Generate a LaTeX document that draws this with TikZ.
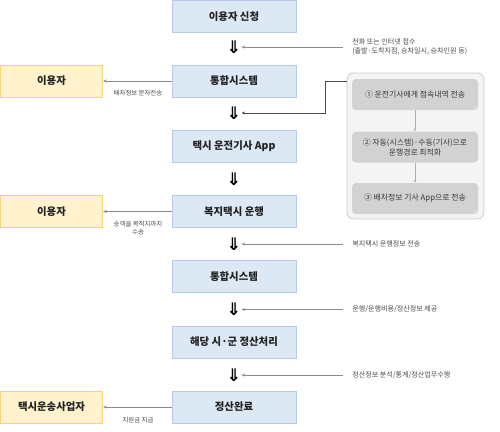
\documentclass[tikz,border=0pt]{standalone}
\usepackage{fontspec}
\setmainfont{Noto Sans CJK KR}
\newfontfamily\symfont{DejaVu Sans}
\usetikzlibrary{arrows.meta}
\definecolor{bluefill}{HTML}{DDE8F5}
\definecolor{blueline}{HTML}{B7CBE6}
\definecolor{yelfill}{HTML}{FFF2CC}
\definecolor{yelline}{HTML}{F5D47C}
\definecolor{panelfill}{HTML}{F4F4F4}
\definecolor{panelline}{HTML}{CCCCCC}
\definecolor{innerfill}{HTML}{D2D2D2}
\definecolor{txt}{HTML}{222222}
\definecolor{lbl}{HTML}{4A4A4A}
\definecolor{arr}{HTML}{8A8A8A}
\begin{document}
\begin{tikzpicture}[x=0.75pt,y=-0.75pt,
  mainbox/.style={draw=blueline, fill=bluefill, line width=0.6pt, minimum width=93pt, minimum height=24pt, inner sep=0pt, font=\fontsize{7.8}{9}\selectfont\bfseries, text=txt},
  userbox/.style={draw=yelline, fill=yelfill, line width=0.6pt, minimum width=77pt, minimum height=24pt, inner sep=0pt, font=\fontsize{7.8}{9}\selectfont\bfseries, text=txt},
  dblarrow/.style={inner sep=0pt, font=\symfont\bfseries\fontsize{13}{13}\selectfont, text=black},
  leftlbl/.style={inner sep=0pt, align=center, font=\fontsize{4.8}{6}\selectfont, text=lbl},
  rightlbl/.style={inner sep=0pt, anchor=west, align=left, font=\fontsize{5.3}{7}\selectfont, text=lbl},
  feed/.style={draw=arr, line width=0.5pt, -{Stealth[length=2.6pt,width=2.2pt]}},
  panelbox/.style={draw=panelline, fill=panelfill, line width=0.6pt, rounded corners=5pt, minimum width=102.75pt, minimum height=109.5pt, inner sep=0pt},
  innerbox/.style={fill=innerfill, rounded corners=3pt, minimum width=94.5pt, minimum height=23.25pt, inner sep=0pt, align=center, font=\fontsize{5.9}{7.5}\selectfont, text=txt!90}
]
\useasboundingbox (0,0) rectangle (500,432);

% main column
\node[mainbox] (b1) at (234,16.5) {이용자 신청};
\node[mainbox] (b2) at (234,81) {통합시스템};
\node[mainbox] (b3) at (234,146.5) {택시 운전기사 App};
\node[mainbox] (b4) at (234,211.5) {복지택시 운행};
\node[mainbox] (b5) at (234,276.5) {통합시스템};
\node[mainbox] (b6) at (234,342) {해당 시·군 정산처리};
\node[mainbox] (b7) at (234,407) {정산완료};

% double arrows
\node[dblarrow] (d1) at (234,47) {⇓};
\node[dblarrow] (d2) at (234,113) {⇓};
\node[dblarrow] (d3) at (234,179) {⇓};
\node[dblarrow] (d4) at (234,244) {⇓};
\node[dblarrow] (d5) at (234,309.5) {⇓};
\node[dblarrow] (d6) at (234,375) {⇓};

% left boxes
\node[userbox] (u1) at (51.5,81) {이용자};
\node[userbox] (u2) at (51.5,211.5) {이용자};
\node[userbox] (u3) at (51.5,407) {택시운송사업자};

\draw[feed] (b2.west) -- (u1.east);
\draw[feed] (b4.west) -- (u2.east);
\draw[feed] (b7.west) -- (u3.east);
\node[leftlbl] (l1) at (138,93) {배차정보 문자전송};
\node[leftlbl] (l2) at (138,228) {승객을 목적지까지\\수송};
\node[leftlbl] (l3) at (138,420) {지원금 지급};

% right labels
\node[rightlbl] (r1) at (352,47) {전화 또는 인터넷 접수\\(출발·도착지점, 승차일시, 승차인원 등)};
\node[rightlbl] (r4) at (352,244) {복지택시 운행정보 전송};
\node[rightlbl] (r5) at (352,309.5) {운행/운행비용/정산정보 제공};
\node[rightlbl] (r6) at (352,375) {정산정보 분석/통계/정산업무수행};

\coordinate (c1) at (343,47);
\coordinate (c4) at (343,244);
\coordinate (c5) at (343,309.5);
\coordinate (c6) at (343,375);
\draw[feed] (c1) -- (d1.east);
\draw[feed] (c4) -- (d4.east);
\draw[feed] (c5) -- (d5.east);
\draw[feed] (c6) -- (d6.east);

% panel
\node[panelbox] (panel) at (415.5,146) {};
\node[innerbox] (p1) at (415,94.5) {① 운전기사에게 접속내역 전송};
\node[innerbox] (p2) at (415,147) {② 자동(시스템)·수동(기사)으로\\운행경로 최적화};
\node[innerbox] (p3) at (415,198.5) {③ 배차정보 기사 App으로 전송};
\draw[draw=arr!70, line width=0.5pt, -{Stealth[length=2.2pt,width=2pt]}] (p1.south) -- (p2.north);
\draw[draw=arr!70, line width=0.5pt, -{Stealth[length=2.2pt,width=2pt]}] (p2.south) -- (p3.north);

\coordinate (k1) at (347,81);
\coordinate (k2) at (325,81);
\coordinate (k3) at (325,113);
\draw[draw=lbl, line width=0.6pt, -{Stealth[length=2.6pt,width=2.2pt]}] (k1) -- (k2) -- (k3) -- (d2.east);
\end{tikzpicture}
\end{document}
